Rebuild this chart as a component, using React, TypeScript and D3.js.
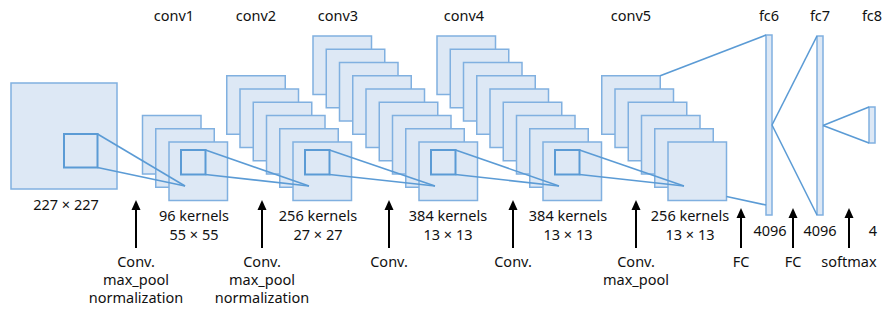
import React from "react";
import * as d3 from "d3";

// ---- content ----
const layerNames = ["conv1", "conv2", "conv3", "conv4", "conv5", "fc6", "fc7", "fc8"];
const kernelCounts = [96, 256, 384, 384, 256];
const featureSizes = [55, 27, 13, 13, 13];
const stackDepths = [3, 6, 9, 9, 6];
const inputSize = 227;
const fcUnits = [4096, 4096, 4];
const operations = [
  ["Conv.", "max_pool", "normalization"],
  ["Conv.", "max_pool", "normalization"],
  ["Conv."],
  ["Conv."],
  ["Conv.", "max_pool"],
  ["FC"],
  ["FC"],
  ["softmax"],
];

// ---- layout ----
const W = 883;
const H = 312;
const FONT = "'Noto Sans', 'DejaVu Sans', sans-serif";
const FS = 14.5;
const stackFrontX = [169, 293, 419, 543, 668];
const frontY = 142;
const sheet = 58.5;
const step = 13.25;
const titleX = [174, 256, 338, 464, 631, 769, 820, 872];
const kernelLabelX = [194, 318, 448, 568, 690];
const arrowX = [136, 262, 389, 513, 636, 741, 793, 849];
const arrowTipY = [200, 200, 200, 200, 200, 208, 208, 208];
const fcX = [766, 817, 869];
const fcTop = [35, 36, 107];
const fcBottom = [215, 215, 143];
const fcLabelX = [770, 820, 873];
const fcW = 6;

const FILL = "#dde8f5";
const EDGE = "#80b0e0";
const LINE = "#5b9bd5";

export default function App() {
  const line = d3.line<[number, number]>();
  const input = { x: 11, y: 83, s: 106, rx: 64, ry: 134, rs: 33.5 };

  // apex points where receptive-field lines converge on each conv stack
  const apex = stackFrontX.map((x) => [x + 16, frontY + 44] as [number, number]);
  const inner = stackFrontX.map((x) => ({ x: x + 12, y: frontY + 8, s: 24.5 }));

  const connectors: [number, number][][] = [];
  // input -> conv1
  connectors.push([[input.rx + input.rs, input.ry], apex[0]]);
  connectors.push([[input.rx + input.rs, input.ry + input.rs], apex[0]]);
  for (let i = 0; i < 4; i++) {
    connectors.push([[inner[i].x + inner[i].s, inner[i].y], apex[i + 1]]);
    connectors.push([[inner[i].x + inner[i].s, inner[i].y + inner[i].s], apex[i + 1]]);
  }
  // conv5 -> fc6
  const c5Back = stackFrontX[4] - step * (stackDepths[4] - 1);
  const c5BackY = frontY - step * (stackDepths[4] - 1);
  connectors.push([[c5Back + sheet, c5BackY], [fcX[0], fcTop[0]]]);
  connectors.push([[stackFrontX[4] + sheet, frontY + sheet - 4], [fcX[0], fcBottom[0] - 10]]);
  // fc6 -> fc7, fc7 -> fc8
  for (let i = 0; i < 2; i++) {
    const mid = (fcTop[i] + fcBottom[i]) / 2;
    connectors.push([[fcX[i] + fcW, mid], [fcX[i + 1], fcTop[i + 1]]]);
    connectors.push([[fcX[i] + fcW, mid], [fcX[i + 1], fcBottom[i + 1]]]);
  }

  const arrowBottom = 248;

  return (
    <svg
      width={W}
      height={H}
      style={{ position: "absolute", left: 0, top: 0, background: "#fff" }}
      fontFamily={FONT}
      fontSize={FS}
    >
      {/* input image */}
      <rect x={input.x} y={input.y} width={input.s} height={input.s} fill={FILL} stroke={EDGE} strokeWidth={1.5} />
      <rect x={input.rx} y={input.ry} width={input.rs} height={input.rs} fill="none" stroke={LINE} strokeWidth={2} />

      {/* conv stacks */}
      {stackFrontX.map((fx, li) =>
        d3.range(stackDepths[li]).map((k) => {
          const back = stackDepths[li] - 1 - k;
          return (
            <rect
              key={`s${li}-${k}`}
              x={fx - back * step}
              y={frontY - back * step}
              width={sheet}
              height={sheet}
              fill={FILL}
              stroke={EDGE}
              strokeWidth={1.5}
            />
          );
        })
      )}
      {inner.slice(0, 4).map((r, i) => (
        <rect key={`in${i}`} x={r.x} y={r.y} width={r.s} height={r.s} fill="none" stroke={LINE} strokeWidth={2} />
      ))}

      {/* fc bars */}
      {fcX.map((x, i) => (
        <rect key={`fc${i}`} x={x} y={fcTop[i]} width={fcW} height={fcBottom[i] - fcTop[i]} fill={FILL} stroke={EDGE} strokeWidth={1.5} />
      ))}

      {/* connectors */}
      {connectors.map((c, i) => (
        <path key={`c${i}`} d={line(c) || ""} fill="none" stroke={LINE} strokeWidth={1.6} />
      ))}

      {/* layer titles */}
      {layerNames.map((n, i) => (
        <text key={`t${i}`} x={titleX[i]} y={21} textAnchor="middle" fill="#111">
          {n}
        </text>
      ))}

      {/* input size */}
      <text x={66} y={210} textAnchor="middle" fill="#111">
        {`${inputSize} \u00d7 ${inputSize}`}
      </text>

      {/* kernel labels */}
      {kernelCounts.map((k, i) => (
        <g key={`k${i}`} fill="#111" textAnchor="middle">
          <text x={kernelLabelX[i]} y={221}>{`${k} kernels`}</text>
          <text x={kernelLabelX[i]} y={240}>{`${featureSizes[i]} \u00d7 ${featureSizes[i]}`}</text>
        </g>
      ))}

      {/* fc units */}
      {fcUnits.map((u, i) => (
        <text key={`u${i}`} x={fcLabelX[i]} y={236} textAnchor="middle" fill="#111">
          {u}
        </text>
      ))}

      {/* arrows + operations */}
      {arrowX.map((x, i) => {
        const tip = arrowTipY[i];
        const head = d3.path();
        head.moveTo(x, tip);
        head.lineTo(x - 4.5, tip + 10);
        head.lineTo(x + 4.5, tip + 10);
        head.closePath();
        return (
          <g key={`a${i}`}>
            <line x1={x} x2={x} y1={tip + 8} y2={arrowBottom} stroke="#000" strokeWidth={2} />
            <path d={head.toString()} fill="#000" />
            {operations[i].map((op, j) => (
              <text key={j} x={x} y={267 + j * 18} textAnchor="middle" fill="#111">
                {op}
              </text>
            ))}
          </g>
        );
      })}
    </svg>
  );
}
